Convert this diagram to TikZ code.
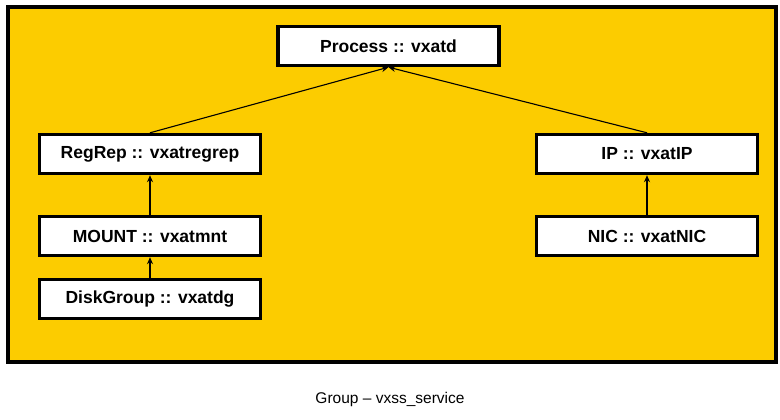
\documentclass[tikz,border=0pt]{standalone}
\usepackage{fontspec}
\setmainfont{Liberation Sans}
\usetikzlibrary{arrows.meta}
\definecolor{grpyellow}{RGB}{252,204,0}
\tikzset{
  resbox/.style={draw=black, line width=3.4pt, fill=white, minimum width=221pt, minimum height=39pt, inner sep=0pt, font=\fontsize{17.5}{20}\selectfont\bfseries},
  dep/.style={draw=black, line width=1.1pt, -{Stealth[length=7pt,width=6pt]}}
}
\begin{document}
\begin{tikzpicture}[x=1pt,y=-1pt]
\useasboundingbox (0,0) rectangle (780,420);
\fill[white] (0,0) rectangle (780,420);
\draw[line width=4pt, fill=grpyellow] (8,7) rectangle (776,362);
\node[resbox] (proc) at (388.5,46) {Process :: vxatd};
\node[resbox] (regrep) at (150,154) {RegRep :: vxatregrep};
\node[resbox] (mount) at (150,236) {MOUNT :: vxatmnt};
\node[resbox] (disk) at (150,299) {DiskGroup :: vxatdg};
\node[resbox] (ip) at (647,154) {IP :: vxatIP};
\node[resbox] (nic) at (647,236) {NIC :: vxatNIC};
\draw[dep] (regrep.north) -- (proc.south);
\draw[dep] (ip.north) -- (proc.south);
\draw[dep] (mount.north) -- (regrep.south);
\draw[dep] (disk.north) -- (mount.south);
\draw[dep] (nic.north) -- (ip.south);
\node[font=\fontsize{15.5}{18}\selectfont] (lbl) at (390,399) {Group – vxss\_service};
\end{tikzpicture}
\end{document}
